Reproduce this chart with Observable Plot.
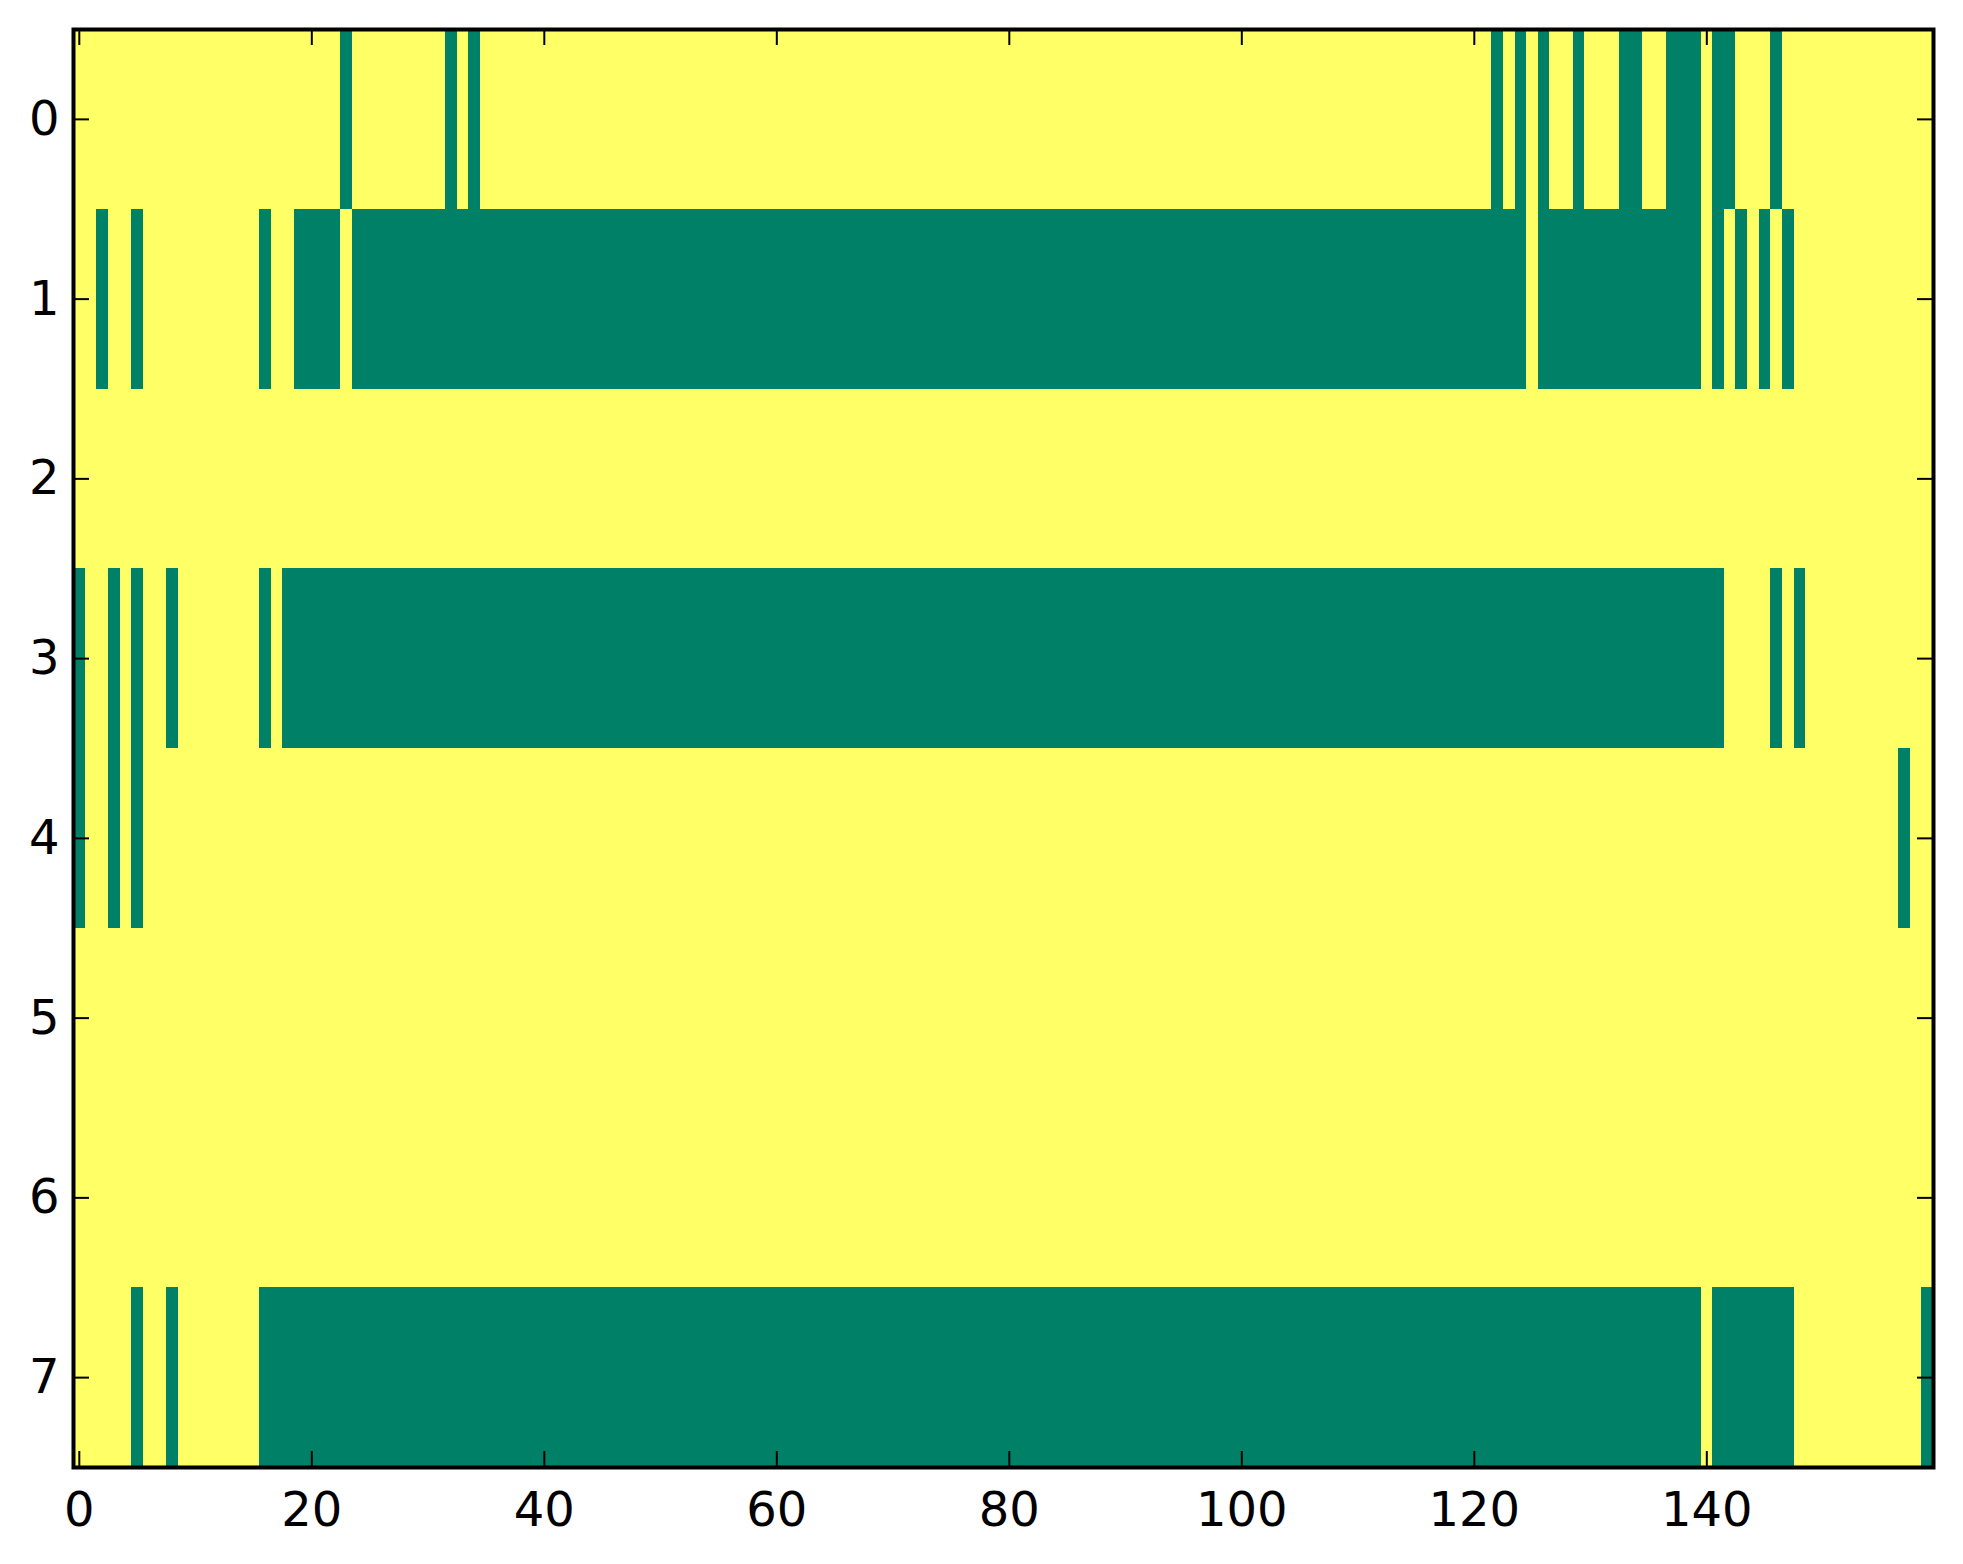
<!DOCTYPE html>
<html>
<head>
<meta charset="utf-8">
<script src="https://cdn.jsdelivr.net/npm/d3@7"></script>
<script src="https://cdn.jsdelivr.net/npm/@observablehq/plot@0.6"></script>
<style>
  html, body { margin: 0; padding: 0; background: #ffffff; }
  #chart svg { display: block; }
</style>
</head>
<body>
<div id="chart"></div>
<script>
// ---- data ----
const nCols = 160;
const rows = [0, 1, 2, 3, 4, 5, 6, 7];
const xTicks = [0, 20, 40, 60, 80, 100, 120, 140];
const yTicks = [0, 1, 2, 3, 4, 5, 6, 7];
// cells with value 0 (green) per row; [a, b] = inclusive run of columns
const green0 = [23, 32, 34, 122, 124, 126, 129, [133, 134], [137, 139], [141, 142], 146];
const green1 = [2, 5, 16, [19, 22], [24, 124], [126, 139], 141, 143, 145, 147];
const green2 = [];
const green3 = [0, 3, 5, 8, 16, [18, 141], 146, 148];
const green4 = [0, 3, 5, 157];
const green5 = [];
const green6 = [];
const green7 = [5, 8, [16, 139], [141, 147], 159];
const greenRows = [green0, green1, green2, green3, green4, green5, green6, green7];
const colors = ["#008066", "#ffff66"]; // summer colormap: 0 -> green, 1 -> yellow

// build the full matrix (value 1 = yellow, 0 = green)
const cells = [];
rows.forEach((r) => {
  const g = new Set();
  greenRows[r].forEach((e) => {
    if (Array.isArray(e)) { for (let c = e[0]; c <= e[1]; c++) g.add(c); }
    else g.add(e);
  });
  for (let c = 0; c < nCols; c++) cells.push({row: r, col: c, value: g.has(c) ? 0 : 1});
});

// ---- layout ----
const W = 1963, H = 1564;
const mL = 73, mR = 30, mT = 29, mB = 97;
const plotW = W - mL - mR, plotH = H - mT - mB;
const tickLen = 16;
const fs = 48;

const chart = Plot.plot({
  width: W,
  height: H,
  marginLeft: mL,
  marginRight: mR,
  marginTop: mT,
  marginBottom: mB,
  style: {fontFamily: "DejaVu Sans, sans-serif", fontSize: fs + "px", color: "black", background: "white"},
  x: {domain: [-0.5, nCols - 0.5]},
  y: {domain: [-0.5, rows.length - 0.5], reverse: true},
  color: {type: "linear", domain: [0, 1], range: colors},
  marks: [
    Plot.rect(cells, {
      x1: (d) => d.col - 0.5, x2: (d) => d.col + 0.5,
      y1: (d) => d.row - 0.5, y2: (d) => d.row + 0.5,
      fill: "value", shapeRendering: "crispEdges"
    }),
    // inward ticks on all four sides
    Plot.tickX(xTicks, {x: (d) => d, stroke: "black", strokeWidth: 2, insetTop: plotH - tickLen}),
    Plot.tickX(xTicks, {x: (d) => d, stroke: "black", strokeWidth: 2, insetBottom: plotH - tickLen}),
    Plot.tickY(yTicks, {y: (d) => d, stroke: "black", strokeWidth: 2, insetRight: plotW - tickLen}),
    Plot.tickY(yTicks, {y: (d) => d, stroke: "black", strokeWidth: 2, insetLeft: plotW - tickLen}),
    Plot.axisX({anchor: "bottom", ticks: xTicks, tickSize: 0, tickPadding: 24, fontSize: fs, label: null}),
    Plot.axisY({anchor: "left", ticks: yTicks, tickSize: 0, tickPadding: 14, fontSize: fs, label: null}),
    Plot.frame({stroke: "black", strokeWidth: 4})
  ]
});
document.getElementById("chart").appendChild(chart);
</script>
</body>
</html>
